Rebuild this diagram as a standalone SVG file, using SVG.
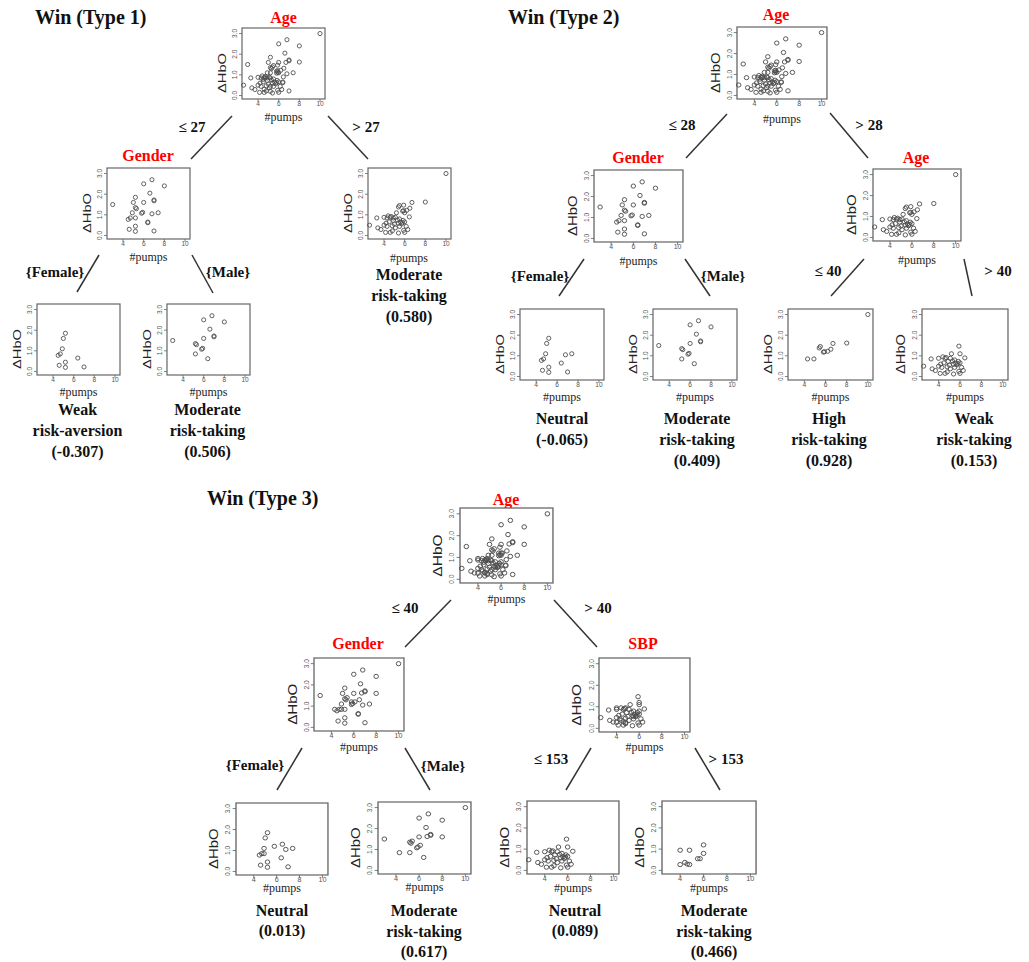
<svg xmlns="http://www.w3.org/2000/svg" width="1029" height="962" viewBox="0 0 1029 962">
<style>
.ti{font:bold 20px "Liberation Serif",serif;fill:#111}
.nt{font:bold 16px "Liberation Serif",serif;fill:#f00;text-anchor:middle}
.el{font:bold 15px "Liberation Serif",serif;fill:#111;text-anchor:middle}
.lt{font:bold 16px "Liberation Serif",serif;fill:#111;text-anchor:middle}
.pu{font:12px "Liberation Serif",serif;fill:#222;text-anchor:middle}
.tl{font:6.5px "Liberation Sans",sans-serif;fill:#555;text-anchor:middle}
.yl{font:11.5px "Liberation Sans",sans-serif;fill:#222;text-anchor:middle}
.box{fill:#fff;stroke:#666;stroke-width:1.2}
.tk{stroke:#666;stroke-width:.8;fill:none}
.dat{fill:none;stroke:#4d4d4d;stroke-width:.085}
.cn line{stroke:#333;stroke-width:1.5}
</style>
<defs>
<g id="fr">
<rect class="box" width="83" height="71"/>
<path class="tk" d="M16 71v3M36.7 71v3M57.3 71v3M78 71v3M0 67.5h-3M0 46.8h-3M0 26.2h-3M0 5.5h-3"/>
<text class="tl" x="16" y="78">4</text><text class="tl" x="36.7" y="78">6</text><text class="tl" x="57.3" y="78">8</text><text class="tl" x="78" y="78">10</text>
<text class="tl" transform="translate(-5,67.5) rotate(-90)">0.0</text>
<text class="tl" transform="translate(-5,46.8) rotate(-90)">1.0</text>
<text class="tl" transform="translate(-5,26.2) rotate(-90)">2.0</text>
<text class="tl" transform="translate(-5,5.5) rotate(-90)">3.0</text>
<text class="yl" transform="translate(-16,45) rotate(-90)" textLength="40" lengthAdjust="spacingAndGlyphs">ΔHbO</text>
</g>
<g id="F0"><circle cx="5.2" cy="3.7" r=".2"/><circle cx="5" cy="3.2" r=".2"/><circle cx="4.9" cy="2.2" r=".2"/><circle cx="4.7" cy="1.7" r=".2"/><circle cx="4.5" cy="1.56" r=".2"/><circle cx="4.6" cy=".6" r=".2"/><circle cx="5.2" cy=".9" r=".2"/><circle cx="5.2" cy=".4" r=".2"/><circle cx="6.4" cy="1.3" r=".2"/><circle cx="7" cy=".44" r=".2"/></g>
<g id="Fx"><circle cx="6.8" cy="2.1" r=".2"/><circle cx="7.4" cy="2.2" r=".2"/></g>
<g id="Fy"><circle cx="5.8" cy="2.4" r=".2"/><circle cx="6.5" cy="2.6" r=".2"/><circle cx="4.9" cy="1.7" r=".2"/></g>
<g id="M0"><circle cx="3" cy="3" r=".2"/><circle cx="6" cy="5" r=".2"/><circle cx="6.8" cy="5.4" r=".2"/><circle cx="8" cy="4.8" r=".2"/><circle cx="6.6" cy="4.1" r=".2"/><circle cx="7" cy="3.44" r=".2"/><circle cx="7" cy="3.36" r=".2"/><circle cx="6" cy="3.2" r=".2"/><circle cx="5.2" cy="2.7" r=".2"/><circle cx="5.3" cy="2.6" r=".2"/><circle cx="5.9" cy="2.24" r=".2"/><circle cx="5.8" cy="2.16" r=".2"/><circle cx="5.2" cy="1.7" r=".2"/><circle cx="6.4" cy="1.24" r=".2"/></g>
<g id="Mx"><circle cx="10" cy="6" r=".2"/><circle cx="8" cy="3.2" r=".2"/><circle cx="6.7" cy="3.24" r=".2"/><circle cx="5.4" cy="2.8" r=".2"/><circle cx="6.1" cy="2.4" r=".2"/><circle cx="4.3" cy="1.7" r=".2"/></g>
<g id="H"><circle cx="10" cy="6" r=".2"/><circle cx="8" cy="3.24" r=".2"/><circle cx="6.7" cy="3.2" r=".2"/><circle cx="5.5" cy="2.9" r=".2"/><circle cx="5.4" cy="2.76" r=".2"/><circle cx="5.9" cy="2.4" r=".2"/><circle cx="6.2" cy="2.44" r=".2"/><circle cx="6.5" cy="2.64" r=".2"/><circle cx="5.8" cy="2.36" r=".2"/><circle cx="4.3" cy="1.7" r=".2"/><circle cx="4.9" cy="1.7" r=".2"/></g>
<g id="L"><circle cx="2.6" cy="1" r=".2"/><circle cx="3.3" cy="1.7" r=".2"/><circle cx="4" cy="1.76" r=".2"/><circle cx="4.6" cy="1.76" r=".2"/><circle cx="5.1" cy="1.76" r=".2"/><circle cx="5.5" cy="1.6" r=".2"/><circle cx="5.85" cy="1.46" r=".2"/><circle cx="6" cy="2.2" r=".2"/><circle cx="5.9" cy="2.94" r=".2"/><circle cx="6.45" cy="1.8" r=".2"/><circle cx="5.2" cy="2.2" r=".2"/><circle cx="4" cy="1" r=".2"/><circle cx="4.3" cy=".88" r=".2"/><circle cx="4.8" cy=".94" r=".2"/><circle cx="5.1" cy=".74" r=".2"/><circle cx="5.4" cy="1.18" r=".2"/><circle cx="5.7" cy="1.12" r=".2"/><circle cx="6" cy="1.32" r=".2"/><circle cx="6.15" cy=".88" r=".2"/><circle cx="6.3" cy=".58" r=".2"/><circle cx="3.4" cy=".74" r=".2"/><circle cx="3.7" cy=".58" r=".2"/><circle cx="4.15" cy=".3" r=".2"/><circle cx="4.8" cy=".44" r=".2"/><circle cx="5.4" cy=".24" r=".2"/><circle cx="6" cy=".3" r=".2"/><circle cx="4.5" cy="1.32" r=".2"/><circle cx="4.9" cy="1.46" r=".2"/><circle cx="5.5" cy=".88" r=".2"/><circle cx="5.8" cy="1.24" r=".2"/><circle cx="4.4" cy="1.9" r=".2"/><circle cx="4.7" cy="1.84" r=".2"/><circle cx="5.3" cy="1.5" r=".2"/><circle cx="5.6" cy="1.3" r=".2"/><circle cx="4.2" cy="1.2" r=".2"/><circle cx="5" cy="1.1" r=".2"/><circle cx="5.9" cy=".5" r=".2"/><circle cx="4.6" cy=".3" r=".2"/></g>
<g id="S2"><circle cx="4" cy="1.9" r=".2"/><circle cx="4.8" cy="1.9" r=".2"/><circle cx="6" cy="2.4" r=".2"/><circle cx="6" cy="1.6" r=".2"/><circle cx="4" cy=".55" r=".2"/><circle cx="4.4" cy=".75" r=".2"/><circle cx="4.6" cy=".6" r=".2"/><circle cx="4.8" cy=".55" r=".2"/><circle cx="5.5" cy="1.1" r=".2"/><circle cx="5.7" cy="1.1" r=".2"/></g>
<g id="dF1"><use href="#F0"/><use href="#Fx"/></g>
<g id="dG1"><use href="#dF1"/><use href="#M0"/></g>
<g id="dHL"><use href="#H"/><use href="#L"/></g>
<g id="dA1"><use href="#dG1"/><use href="#dHL"/></g>
<g id="dF2"><use href="#dF1"/><use href="#Fy"/></g>
<g id="dM2"><use href="#M0"/><use href="#Mx"/></g>
<g id="dG3"><use href="#dF2"/><use href="#dM2"/></g>
<g id="dS"><use href="#L"/><use href="#S2"/></g>
<g id="dA3"><use href="#dG3"/><use href="#dS"/></g>
</defs>
<rect width="1029" height="962" fill="#fff"/>

<text class="ti" x="35" y="24">Win (Type 1)</text>
<text class="ti" x="508" y="24">Win (Type 2)</text>
<text class="ti" x="207" y="505">Win (Type 3)</text>

<g class="cn" id="connectors">
<line x1="232" y1="116" x2="191" y2="159"/>
<line x1="328" y1="116" x2="368" y2="159"/>
<line x1="99" y1="255" x2="77" y2="292"/>
<line x1="192" y1="255" x2="213" y2="293"/>
<line x1="727" y1="114" x2="686" y2="158"/>
<line x1="830" y1="113" x2="868" y2="158"/>
<line x1="584" y1="259" x2="559" y2="296"/>
<line x1="685" y1="259" x2="710" y2="296"/>
<line x1="864" y1="259" x2="831" y2="296"/>
<line x1="964" y1="259" x2="972" y2="296"/>
<line x1="451" y1="600" x2="405" y2="647"/>
<line x1="554" y1="600" x2="597" y2="647"/>
<line x1="302" y1="748" x2="277" y2="790"/>
<line x1="405" y1="748" x2="430" y2="790"/>
<line x1="591" y1="748" x2="566" y2="790"/>
<line x1="695" y1="748" x2="720" y2="790"/>
</g>

<g id="edge-labels">
<text class="el" x="192" y="132">≤ 27</text>
<text class="el" x="366" y="132">&gt; 27</text>
<text class="el" x="55" y="277">{Female}</text>
<text class="el" x="228" y="277">{Male}</text>
<text class="el" x="682" y="130">≤ 28</text>
<text class="el" x="869" y="130">&gt; 28</text>
<text class="el" x="540" y="281">{Female}</text>
<text class="el" x="723" y="281">{Male}</text>
<text class="el" x="828" y="276">≤ 40</text>
<text class="el" x="998" y="276">&gt; 40</text>
<text class="el" x="405" y="613">≤ 40</text>
<text class="el" x="598" y="613">&gt; 40</text>
<text class="el" x="255" y="770">{Female}</text>
<text class="el" x="443" y="771">{Male}</text>
<text class="el" x="551" y="764">≤ 153</text>
<text class="el" x="726" y="764">&gt; 153</text>
</g>

<!-- Type 1 -->
<g id="t1-age">
<text class="nt" x="283.5" y="23">Age</text>
<g transform="translate(242,28)"><use href="#fr"/><use class="dat" href="#dA1" transform="translate(-25.3,67.5) scale(10.33,-10.33)"/></g>
<text class="pu" x="283.5" y="121">#pumps</text>
</g>
<g id="t1-gender">
<text class="nt" x="148" y="161">Gender</text>
<g transform="translate(107,168)"><use href="#fr"/><use class="dat" href="#dG1" transform="translate(-25.3,67.5) scale(10.33,-10.33)"/></g>
<text class="pu" x="148.5" y="261">#pumps</text>
</g>
<g id="t1-female">
<g transform="translate(37,304)"><use href="#fr"/><use class="dat" href="#F0" transform="translate(-25.3,67.5) scale(10.33,-10.33)"/></g>
<text class="pu" x="78.5" y="396">#pumps</text>
<text class="lt" x="77.5" y="415">Weak</text>
<text class="lt" x="77.5" y="436">risk-aversion</text>
<text class="lt" x="77.5" y="457">(-0.307)</text>
</g>
<g id="t1-male">
<g transform="translate(167,304)"><use href="#fr"/><use class="dat" href="#M0" transform="translate(-25.3,67.5) scale(10.33,-10.33)"/></g>
<text class="pu" x="208.5" y="396">#pumps</text>
<text class="lt" x="207.5" y="415">Moderate</text>
<text class="lt" x="207.5" y="436">risk-taking</text>
<text class="lt" x="207.5" y="457">(0.506)</text>
</g>
<g id="t1-old">
<g transform="translate(368,168)"><use href="#fr"/><use class="dat" href="#dHL" transform="translate(-25.3,67.5) scale(10.33,-10.33)"/></g>
<text class="pu" x="409" y="262">#pumps</text>
<text class="lt" x="409" y="280">Moderate</text>
<text class="lt" x="409" y="301">risk-taking</text>
<text class="lt" x="409" y="322">(0.580)</text>
</g>

<!-- Type 2 -->
<g id="t2-age">
<text class="nt" x="776" y="20">Age</text>
<g transform="translate(737,27) scale(1.084,1.014)"><use href="#fr"/><use class="dat" href="#dA1" transform="translate(-25.3,67.5) scale(10.33,-10.33)"/></g>
<text class="pu" x="782" y="123">#pumps</text>
</g>
<g id="t2-gender">
<text class="nt" x="638" y="163">Gender</text>
<g transform="translate(594,170) scale(1.072,1.014)"><use href="#fr"/><use class="dat" href="#dG1" transform="translate(-25.3,67.5) scale(10.33,-10.33)"/></g>
<text class="pu" x="638.5" y="265">#pumps</text>
</g>
<g id="t2-age2">
<text class="nt" x="916" y="163">Age</text>
<g transform="translate(873,169) scale(1.06,1.014)"><use href="#fr"/><use class="dat" href="#dHL" transform="translate(-25.3,67.5) scale(10.33,-10.33)"/></g>
<text class="pu" x="917" y="264">#pumps</text>
</g>
<g id="t2-female">
<g transform="translate(520,309) scale(1.012,1)"><use href="#fr"/><use class="dat" href="#dF1" transform="translate(-25.3,67.5) scale(10.33,-10.33)"/></g>
<text class="pu" x="562" y="401">#pumps</text>
<text class="lt" x="562" y="424">Neutral</text>
<text class="lt" x="562" y="445">(-0.065)</text>
</g>
<g id="t2-male">
<g transform="translate(653,309) scale(1.012,1)"><use href="#fr"/><use class="dat" href="#M0" transform="translate(-25.3,67.5) scale(10.33,-10.33)"/></g>
<text class="pu" x="695" y="401">#pumps</text>
<text class="lt" x="697" y="424">Moderate</text>
<text class="lt" x="697" y="445">risk-taking</text>
<text class="lt" x="697" y="466">(0.409)</text>
</g>
<g id="t2-young">
<g transform="translate(788,309) scale(1.024,1)"><use href="#fr"/><use class="dat" href="#H" transform="translate(-25.3,67.5) scale(10.33,-10.33)"/></g>
<text class="pu" x="830.5" y="401">#pumps</text>
<text class="lt" x="829" y="424">High</text>
<text class="lt" x="829" y="445">risk-taking</text>
<text class="lt" x="829" y="466">(0.928)</text>
</g>
<g id="t2-old">
<g transform="translate(922,309) scale(1.036,1)"><use href="#fr"/><use class="dat" href="#L" transform="translate(-25.3,67.5) scale(10.33,-10.33)"/></g>
<text class="pu" x="965" y="401">#pumps</text>
<text class="lt" x="974" y="424">Weak</text>
<text class="lt" x="974" y="445">risk-taking</text>
<text class="lt" x="974" y="466">(0.153)</text>
</g>

<!-- Type 3 -->
<g id="t3-age">
<text class="nt" x="506" y="505">Age</text>
<g transform="translate(460,508) scale(1.12,1.056)"><use href="#fr"/><use class="dat" href="#dA3" transform="translate(-25.3,67.5) scale(10.33,-10.33)"/></g>
<text class="pu" x="506.5" y="603">#pumps</text>
</g>
<g id="t3-gender">
<text class="nt" x="358" y="649">Gender</text>
<g transform="translate(314,658) scale(1.084,1.028)"><use href="#fr"/><use class="dat" href="#dG3" transform="translate(-25.3,67.5) scale(10.33,-10.33)"/></g>
<text class="pu" x="359" y="751">#pumps</text>
</g>
<g id="t3-sbp">
<text class="nt" x="643" y="649">SBP</text>
<g transform="translate(599,658) scale(1.096,1.042)"><use href="#fr"/><use class="dat" href="#dS" transform="translate(-25.3,67.5) scale(10.33,-10.33)"/></g>
<text class="pu" x="644.5" y="751">#pumps</text>
</g>
<g id="t3-female">
<g transform="translate(236,803) scale(1.108,1.014)"><use href="#fr"/><use class="dat" href="#dF2" transform="translate(-25.3,67.5) scale(10.33,-10.33)"/></g>
<text class="pu" x="282" y="892">#pumps</text>
<text class="lt" x="282" y="916">Neutral</text>
<text class="lt" x="282" y="936">(0.013)</text>
</g>
<g id="t3-male">
<g transform="translate(378,802) scale(1.12,1.014)"><use href="#fr"/><use class="dat" href="#dM2" transform="translate(-25.3,67.5) scale(10.33,-10.33)"/></g>
<text class="pu" x="424.5" y="891">#pumps</text>
<text class="lt" x="424" y="916">Moderate</text>
<text class="lt" x="424" y="937">risk-taking</text>
<text class="lt" x="424" y="957">(0.617)</text>
</g>
<g id="t3-low">
<g transform="translate(527,801) scale(1.108,1.028)"><use href="#fr"/><use class="dat" href="#L" transform="translate(-25.3,67.5) scale(10.33,-10.33)"/></g>
<text class="pu" x="573" y="892">#pumps</text>
<text class="lt" x="575" y="916">Neutral</text>
<text class="lt" x="575" y="936">(0.089)</text>
</g>
<g id="t3-high">
<g transform="translate(662,801) scale(1.133,1.028)"><use href="#fr"/><use class="dat" href="#S2" transform="translate(-25.3,67.5) scale(10.33,-10.33)"/></g>
<text class="pu" x="709" y="892">#pumps</text>
<text class="lt" x="714" y="916">Moderate</text>
<text class="lt" x="714" y="937">risk-taking</text>
<text class="lt" x="714" y="957">(0.466)</text>
</g>
</svg>
